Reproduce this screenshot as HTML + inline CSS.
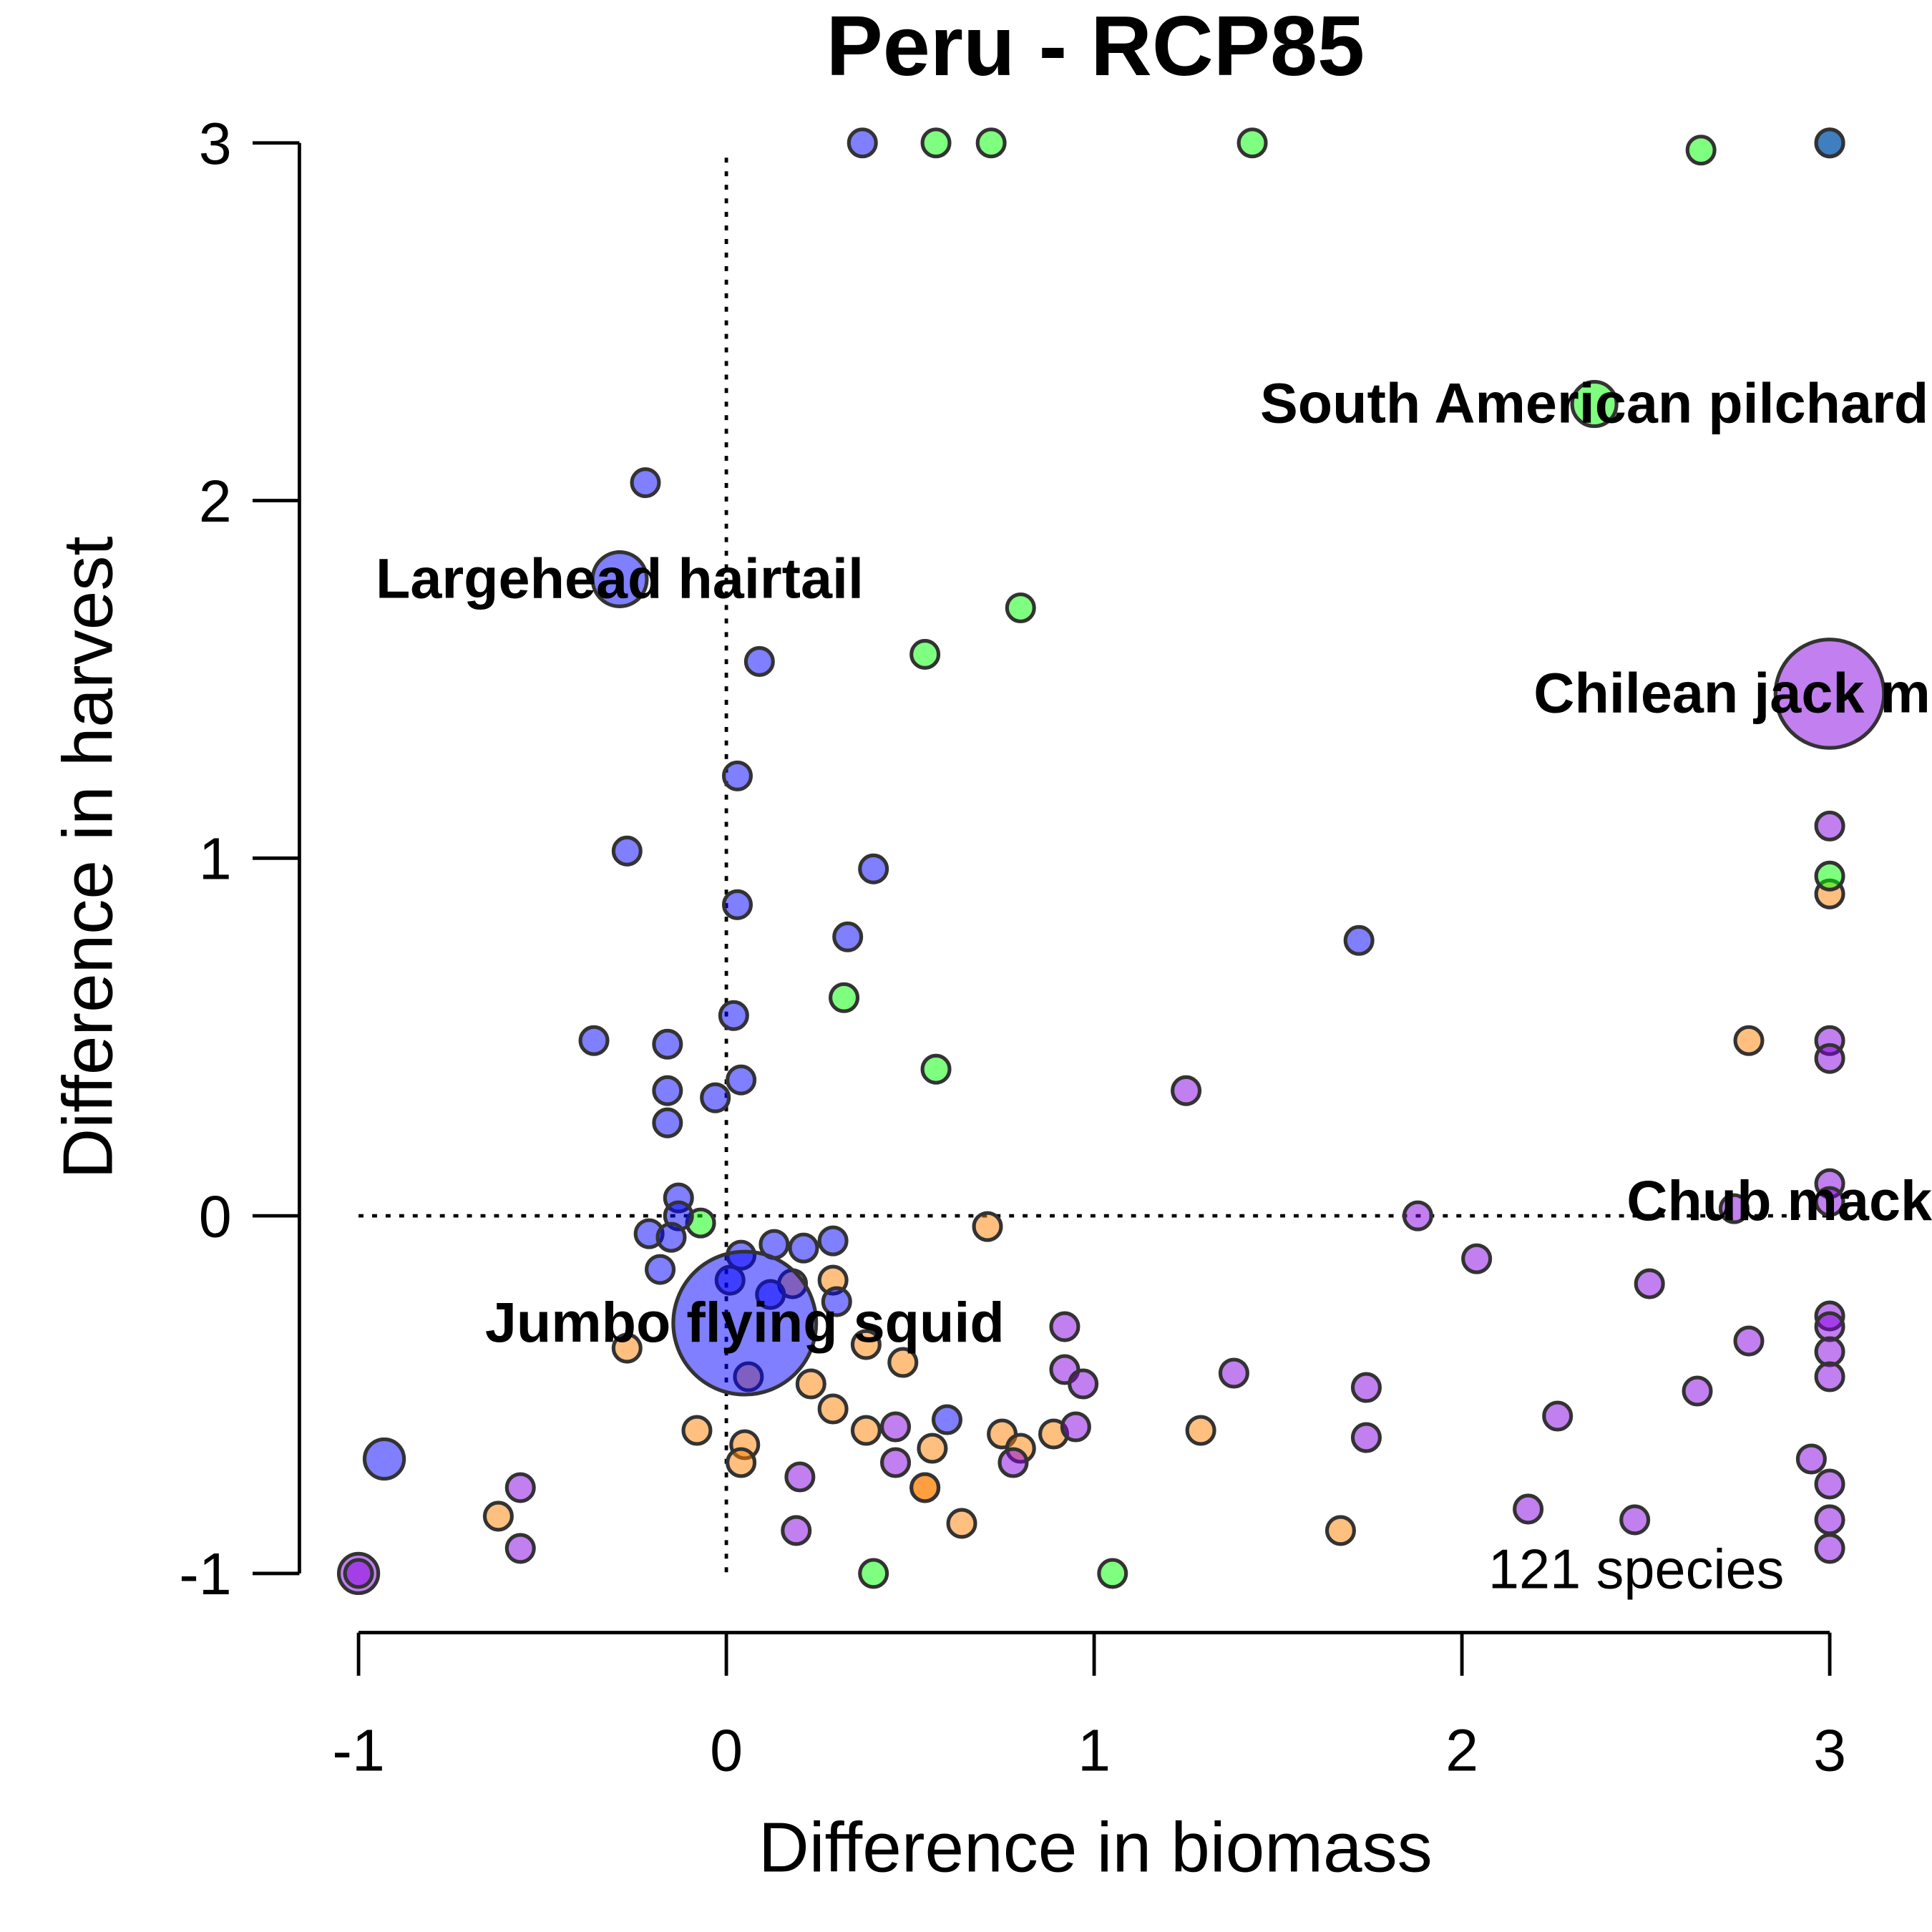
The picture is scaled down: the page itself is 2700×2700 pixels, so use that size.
<!DOCTYPE html>
<html><head><meta charset="utf-8"><style>
html,body{margin:0;padding:0;background:#fff}
svg{display:block}
text{font-family:"Liberation Sans",Arial,sans-serif}
</style></head><body>
<svg id="chart" width="2700" height="2700" viewBox="0 0 1568 1568" xmlns="http://www.w3.org/2000/svg">
<text x="889" y="61" text-anchor="middle" font-size="69" font-weight="bold">Peru - RCP85</text>
<g id="axes"></g>
<g id="refs"></g>
<g id="pts"></g>
<g id="labs"></g>
<text x="889" y="1519" text-anchor="middle" font-size="57">Difference in biomass</text>
<text transform="translate(91,696) rotate(-90)" text-anchor="middle" font-size="57">Difference in harvest</text>
<text x="1448" y="1289" text-anchor="end" font-size="45">121 species</text>
</svg>
<script>
const xTicks=[-1,0,1,2,3];
const yTicks=[-1,0,1,2,3];
const blueX=[0.37,-0.22,-0.29,0.09,0.03,-0.27,0.40,0.03,0.33,1.72,-0.36,-0.16,0.02,-0.16,0.04,-0.03,-0.16,-0.13,-0.21,-0.13,-0.15,-0.18,0.01,0.04,0.13,0.21,0.29,0.12,0.30,0.05,0.60,-0.93,3];
const blueY=[3,2.05,1.78,1.55,1.23,1.02,0.97,0.87,0.78,0.77,0.49,0.48,0.56,0.35,0.38,0.33,0.26,0.05,-0.05,0.00,-0.06,-0.15,-0.18,-0.11,-0.08,-0.09,-0.07,-0.22,-0.24,-0.30,-0.57,-0.68,3];
const blueR=[11,11,22,11,11,11,11,11,11,11,11,11,11,11,11,11,11,11,11,11,11,11,11,11,11,11,11,11,11,58,11,16,11];
const greenX=[0.57,0.72,1.43,2.65,3,2.36,0.80,0.54,0.32,0.57,-0.07,0.40,1.05,3];
const greenY=[3,3,3,2.98,3,2.27,1.70,1.57,0.61,0.41,-0.02,-1,-1,0.95];
const greenR=[11,11,11,11,11,18,11,11,11,11,11,11,11,11];
const orangeX=[3,2.78,0.71,0.18,0.29,-0.27,0.38,0.48,0.06,0.23,0.29,-0.08,0.05,0.04,0.38,0.56,0.54,0.75,0.80,0.89,1.29,0.64,-0.62,1.67,0.54];
const orangeY=[0.90,0.49,-0.03,-0.19,-0.18,-0.37,-0.36,-0.41,-0.45,-0.47,-0.54,-0.60,-0.64,-0.69,-0.60,-0.65,-0.76,-0.61,-0.65,-0.61,-0.60,-0.86,-0.84,-0.88,-0.76];
const purpleX=[3,3,3,3,1.25,1.88,2.74,3,3,2.04,2.51,3,3,3,3,2.78,0.92,0.92,0.97,1.38,1.74,1.74,2.64,2.26,0.95,0.46,0.46,0.20,0.78,0.19,-0.56,-0.56,2.18,2.47,2.95,3,3,3,-1,-1];
const purpleY=[1.46,1.09,0.49,0.44,0.35,0.00,0.02,0.09,0.04,-0.12,-0.19,-0.28,-0.31,-0.38,-0.45,-0.35,-0.31,-0.43,-0.47,-0.44,-0.48,-0.62,-0.49,-0.56,-0.59,-0.59,-0.69,-0.73,-0.69,-0.88,-0.76,-0.93,-0.82,-0.85,-0.68,-0.75,-0.85,-0.93,-1,-1];
const purpleR=[44,11,11,11,11,11,11,11,11,11,11,11,11,11,11,11,11,11,11,11,11,11,11,11,11,11,11,11,11,11,11,11,11,11,11,11,11,11,16,11];
const labelText=["South American pilchard","Largehead hairtail","Chilean jack mackerel","Chub mackerel","Jumbo flying squid"];
const labelX=[2.36,-0.29,3,3,0.05];
const labelY=[2.27,1.78,1.46,0.04,-0.30];

const NS="http://www.w3.org/2000/svg";
const sx=v=>291+(v+1)*298.5;
const sy=v=>116+(3-v)*290.25;
function mk(tag,attrs,parent){const e=document.createElementNS(NS,tag);for(const k in attrs)e.setAttribute(k,attrs[k]);parent.appendChild(e);return e;}
const axes=document.getElementById('axes');
const st={stroke:'#000','stroke-width':2.8,fill:'none'};
let l=mk('line',Object.assign({x1:243,x2:243,y1:sy(3),y2:sy(-1)},st),axes);


l=mk('line',Object.assign({x1:sx(-1),x2:sx(3),y1:1325,y2:1325},st),axes);


yTicks.forEach(v=>{
  const t=mk('line',Object.assign({x1:205,x2:243,y1:sy(v),y2:sy(v)},st),axes);
  
  
  const tx=mk('text',{x:188,y:sy(v)+17,'text-anchor':'end','font-size':48},axes);
  tx.textContent=v;
  
  
});
xTicks.forEach(v=>{
  const t=mk('line',Object.assign({x1:sx(v),x2:sx(v),y1:1325,y2:1360},st),axes);
  
  
  const tx=mk('text',{x:sx(v),y:1437,'text-anchor':'middle','font-size':48},axes);
  tx.textContent=v;
  
  
});
const refs=document.getElementById('refs');
let d=mk('line',{x1:sx(0),x2:sx(0),y1:128,y2:sy(-1),stroke:'#000','stroke-width':2.8,'stroke-dasharray':'4,7'},refs);


d=mk('line',{x1:sx(-1),x2:sx(3),y1:sy(0),y2:sy(0),stroke:'#000','stroke-width':2.8,'stroke-dasharray':'4,7'},refs);


const pts=document.getElementById('pts');
function series(xs,ys,rs,col,name){
  xs.forEach((x,i)=>{
    const c=mk('circle',{cx:sx(x),cy:sy(ys[i]),r:rs?rs[i]:11,fill:col,'fill-opacity':0.5,stroke:'#333','stroke-width':3},pts);
    
    
  });
}
series(orangeX,orangeY,null,'#ff8000','point-orange');
series(purpleX,purpleY,purpleR,'#8500e0','point-purple');
series(greenX,greenY,greenR,'#00ff00','point-green');
series(blueX,blueY,blueR,'#0000ff','point-blue');
const labs=document.getElementById('labs');
labelText.forEach((t,i)=>{
  const tx=mk('text',{x:sx(labelX[i]),y:sy(labelY[i])+15,'text-anchor':'middle','font-size':46,'font-weight':'bold'},labs);
  tx.textContent=t;
  
  
});
</script>
</body></html>
